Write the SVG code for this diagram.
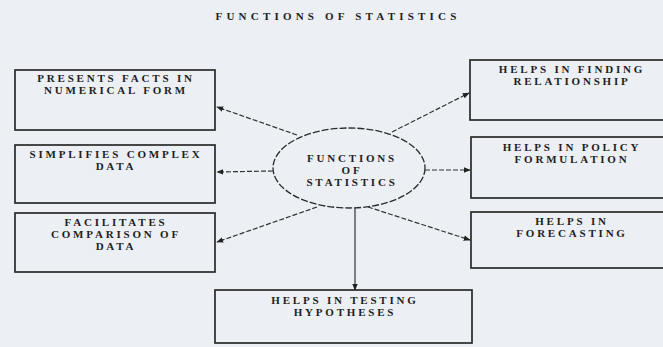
<svg xmlns="http://www.w3.org/2000/svg" width="663" height="347" viewBox="0 0 663 347">
<style>
.bg{fill:#eceff4}
.box{fill:none;stroke:#2a2a2a;stroke-width:1.7}
.t{font-family:"Liberation Serif","Times New Roman",serif;font-weight:bold;font-size:11px;letter-spacing:2.8px;fill:#1e1e1e;text-anchor:middle}
.title{letter-spacing:4.2px}
.c{fill:none;stroke:#333;stroke-width:1.2;stroke-dasharray:5 2}
.solid{stroke-dasharray:none}
.ell{fill:none;stroke:#2a2a2a;stroke-width:1.3;stroke-dasharray:7 2}
</style>
<defs>
<marker id="ah" viewBox="0 0 10 10" refX="9" refY="5" markerWidth="7" markerHeight="7" orient="auto" markerUnits="userSpaceOnUse">
<path d="M0,1 L10,5 L0,9 z" fill="#222"/>
</marker>
</defs>
<rect class="bg" x="0" y="0" width="663" height="347"/>
<g id="title"><text class="t title" x="338" y="20">FUNCTIONS OF STATISTICS</text></g>

<g id="center">
<ellipse class="ell" cx="349" cy="168" rx="76" ry="40"/>
<text class="t" x="352" y="162">FUNCTIONS</text>
<text class="t" x="352" y="174">OF</text>
<text class="t" x="352" y="186">STATISTICS</text>
</g>

<g id="presents">
<rect class="box" x="15" y="70" width="200" height="60"/>
<text class="t" x="116" y="82">PRESENTS FACTS IN</text>
<text class="t" x="116" y="94">NUMERICAL FORM</text>
</g>
<g id="simplifies">
<rect class="box" x="15" y="145" width="200" height="58"/>
<text class="t" x="116" y="158">SIMPLIFIES COMPLEX</text>
<text class="t" x="116" y="170">DATA</text>
</g>
<g id="facilitates">
<rect class="box" x="15" y="213" width="200" height="59"/>
<text class="t" x="116" y="226">FACILITATES</text>
<text class="t" x="116" y="238">COMPARISON OF</text>
<text class="t" x="116" y="250">DATA</text>
</g>
<g id="relationship">
<rect class="box" x="470" y="60" width="202" height="60"/>
<text class="t" x="572" y="73">HELPS IN FINDING</text>
<text class="t" x="572" y="85">RELATIONSHIP</text>
</g>
<g id="policy">
<rect class="box" x="471" y="137" width="202" height="61"/>
<text class="t" x="572" y="151">HELPS IN POLICY</text>
<text class="t" x="572" y="163">FORMULATION</text>
</g>
<g id="forecasting">
<rect class="box" x="471" y="212" width="202" height="56"/>
<text class="t" x="572" y="225">HELPS IN</text>
<text class="t" x="572" y="237">FORECASTING</text>
</g>
<g id="testing">
<rect class="box" x="215" y="290" width="257" height="53"/>
<text class="t" x="345" y="304">HELPS IN TESTING</text>
<text class="t" x="345" y="316">HYPOTHESES</text>
</g>

<g id="connectors">
<line class="c" x1="297" y1="135" x2="217" y2="107" marker-end="url(#ah)"/>
<line class="c" x1="273" y1="171" x2="217" y2="172" marker-end="url(#ah)"/>
<line class="c" x1="317" y1="207" x2="217" y2="242" marker-end="url(#ah)"/>
<line class="c solid" x1="355" y1="208" x2="355" y2="290" marker-end="url(#ah)"/>
<line class="c" x1="368" y1="207" x2="470" y2="240" marker-end="url(#ah)"/>
<line class="c" x1="425" y1="170" x2="470" y2="170" marker-end="url(#ah)"/>
<line class="c" x1="392" y1="132" x2="469" y2="93" marker-end="url(#ah)"/>
</g>
</svg>
